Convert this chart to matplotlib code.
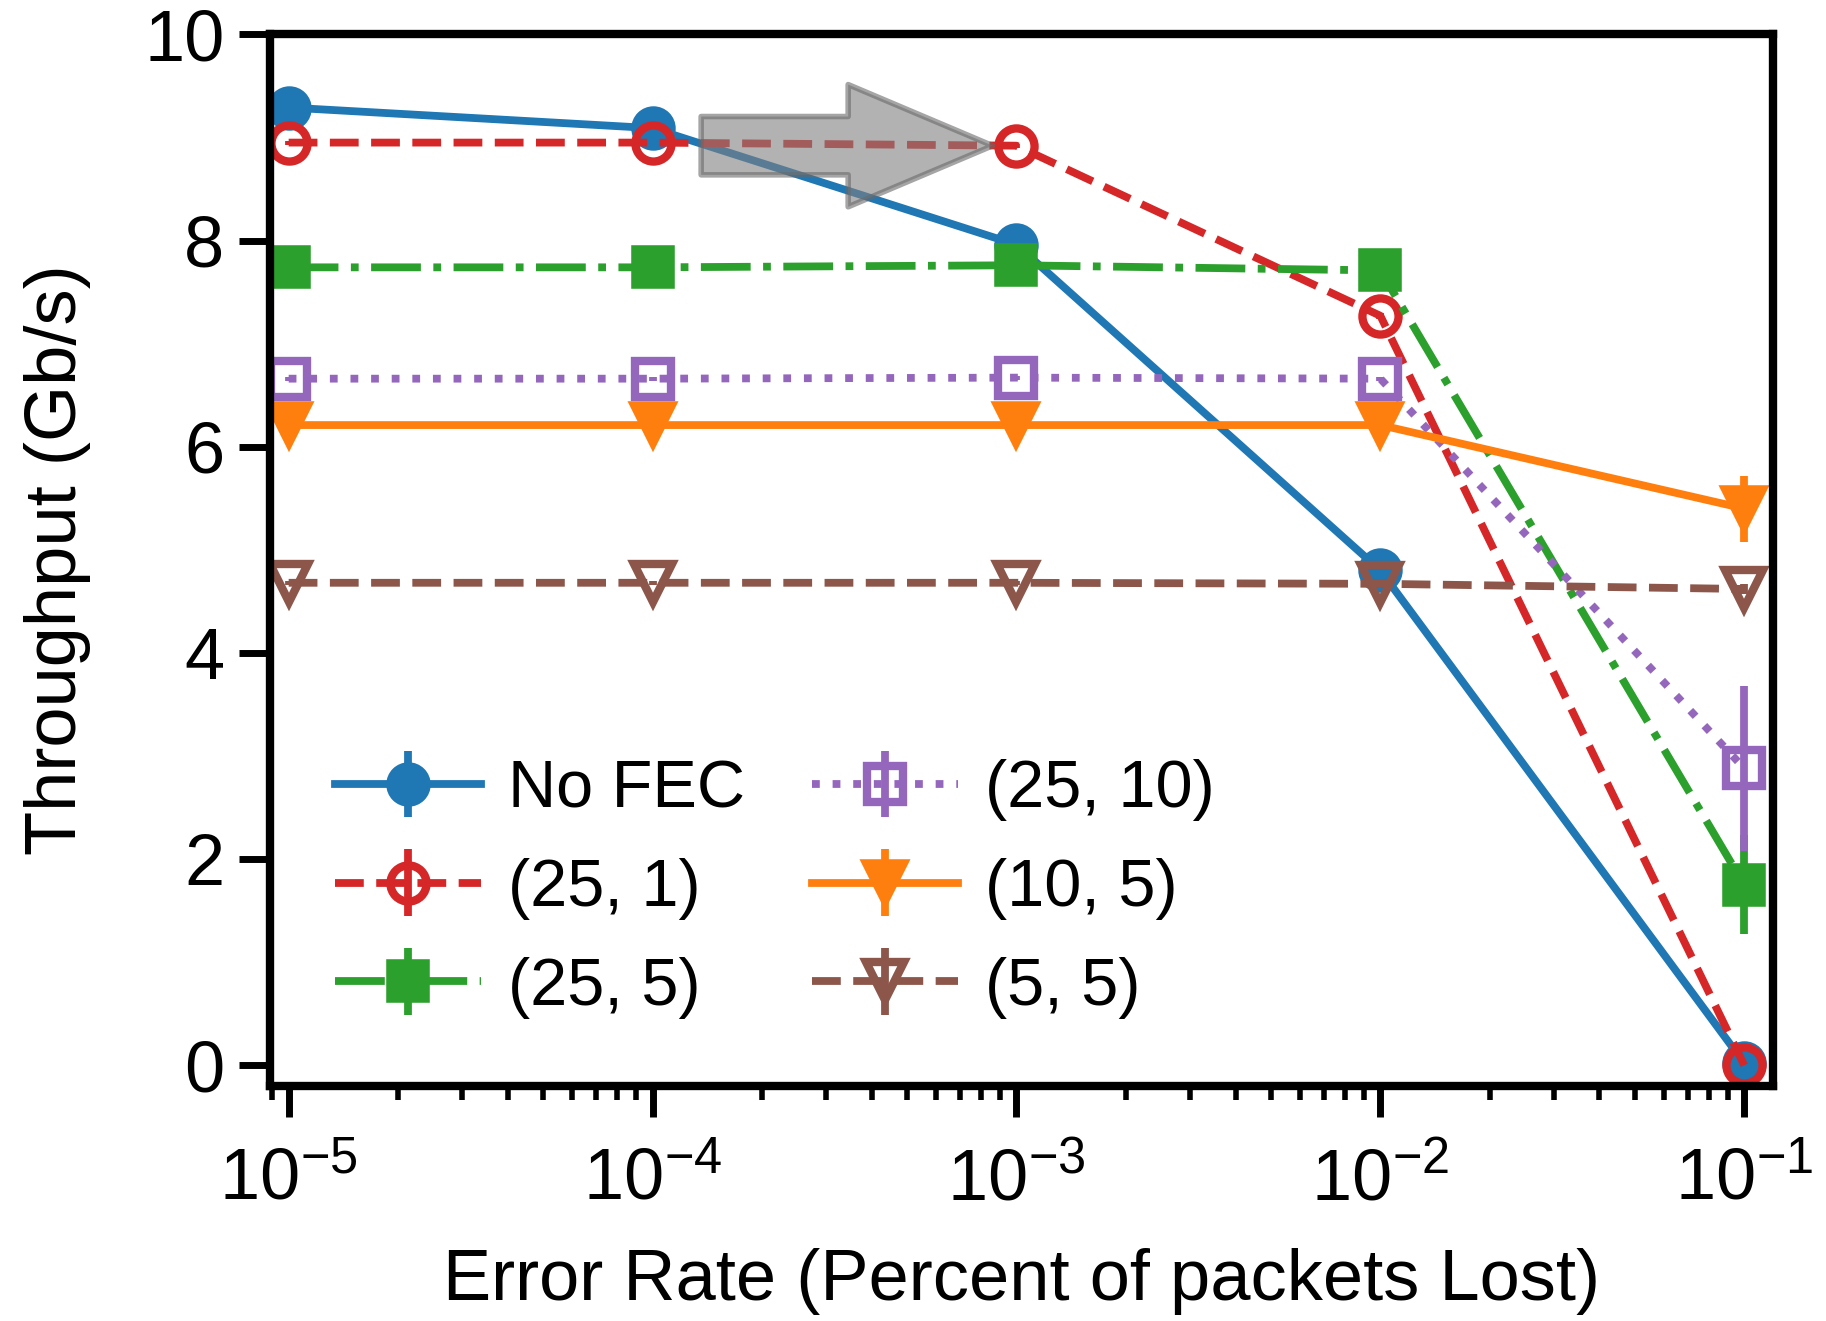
import matplotlib
matplotlib.use("Agg")
import matplotlib.pyplot as plt

plt.rcParams['font.family'] = ['Liberation Sans', 'DejaVu Sans']
plt.rcParams['mathtext.fontset'] = 'custom'
plt.rcParams['mathtext.rm'] = 'Liberation Sans'
plt.rcParams['mathtext.it'] = 'Liberation Sans'
plt.rcParams['mathtext.bf'] = 'Liberation Sans'

# error rate (x) values
rates = [1e-5, 1e-4, 1e-3, 1e-2, 1e-1]

# throughput (Gb/s) per FEC setting
no_fec = [9.29, 9.09, 7.96, 4.80, 0.02]
no_fec_err = [0.02, 0.02, 0.02, 0.02, 0.02]
fec_25_1 = [8.95, 8.95, 8.92, 7.27, 0.0]
fec_25_1_err = [0.02, 0.02, 0.02, 0.03, 0.02]
fec_25_5 = [7.74, 7.74, 7.76, 7.71, 1.75]
fec_25_5_err = [0.02, 0.02, 0.02, 0.02, 0.48]
fec_25_10 = [6.66, 6.66, 6.67, 6.66, 2.88]
fec_25_10_err = [0.02, 0.02, 0.02, 0.02, 0.80]
fec_10_5 = [6.21, 6.21, 6.21, 6.21, 5.40]
fec_10_5_err = [0.02, 0.02, 0.02, 0.02, 0.32]
fec_5_5 = [4.68, 4.68, 4.68, 4.67, 4.62]
fec_5_5_err = [0.02, 0.02, 0.02, 0.02, 0.05]

fig = plt.figure(figsize=(9.13, 6.605), dpi=200)
ax = fig.add_axes([0.148, 0.178, 0.823, 0.796])

lw = 2.8
ax.errorbar(rates, no_fec, yerr=no_fec_err, color='#1f77b4', ls='-', lw=lw,
            marker='o', ms=14, mew=2, elinewidth=lw, label='No FEC')
ax.errorbar(rates, fec_25_1, yerr=fec_25_1_err, color='#d62728', ls='--', lw=lw,
            marker='o', ms=13, mew=3, mfc='none', elinewidth=lw, label='(25, 1)')
ax.errorbar(rates, fec_25_5, yerr=fec_25_5_err, color='#2ca02c', ls='-.', lw=lw,
            marker='s', ms=14, mew=2, elinewidth=lw, label='(25, 5)')
ax.errorbar(rates, fec_25_10, yerr=fec_25_10_err, color='#9467bd', ls=':', lw=lw,
            marker='s', ms=13, mew=3, mfc='none', elinewidth=lw, label='(25, 10)')
ax.errorbar(rates, fec_10_5, yerr=fec_10_5_err, color='#ff7f0e', ls='-', lw=lw,
            marker='v', ms=15, mew=2, elinewidth=lw, label='(10, 5)')
ax.errorbar(rates, fec_5_5, yerr=fec_5_5_err, color='#8c564b', ls='--', lw=lw,
            marker='v', ms=14, mew=3, mfc='none', elinewidth=lw, label='(5, 5)')

# grey arrow showing the shift of the (25, 1) curve
ax.annotate('', xy=(8.6e-4, 8.92), xytext=(1.36e-4, 8.92),
            arrowprops=dict(arrowstyle='simple,head_length=5.2,head_width=4.4,tail_width=2.1',
                            mutation_scale=10, shrinkA=0, shrinkB=0,
                            fc='gray', ec='dimgray', lw=2, alpha=0.6))

ax.set_xscale('log')
ax.set_xlim(8.9e-6, 1.2e-1)
ax.set_ylim(-0.2, 10)
ax.set_yticks([0, 2, 4, 6, 8, 10])
ax.set_xticks([1e-5, 1e-4, 1e-3, 1e-2, 1e-1])

for s in ax.spines.values():
    s.set_linewidth(3)
ax.tick_params(axis='both', which='major', labelsize=26, length=11, width=2.5, direction='out')
ax.tick_params(axis='x', which='minor', length=5, width=2)
ax.tick_params(axis='x', which='major', pad=11)
ax.tick_params(axis='y', which='major', pad=5.5)

ax.set_xlabel('Error Rate (Percent of packets Lost)', fontsize=26, labelpad=12)
ax.set_ylabel('Throughput (Gb/s)', fontsize=26, labelpad=19)

ax.legend(loc='lower left', bbox_to_anchor=(0.003, 0.007), ncol=2, frameon=False,
          fontsize=24, handlelength=2.2, handletextpad=0.4, columnspacing=1.0,
          labelspacing=0.55)

fig.savefig('out.png', dpi=200)
